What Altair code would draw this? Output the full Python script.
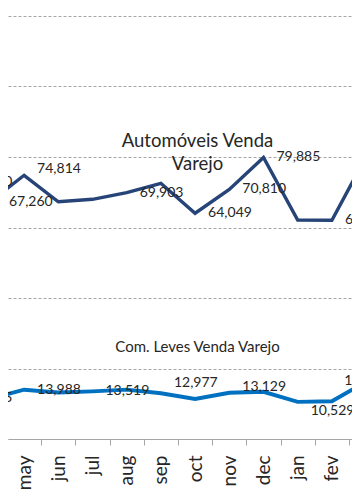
import altair as alt
import pandas as pd

# ---- data ----
months = ["mar", "apr", "may", "jun", "jul", "aug", "sep", "oct", "nov", "dec", "jan", "fev", "mar"]
auto_values = [72880, 67260, 74814, 67300, 68000, 69903, 72540, 64049, 70810, 79885, 62100, 62050, 80100]
auto_labels = ["72,880", "67,260", "74,814", "", "", "69,903", "", "64,049", "70,810", "79,885", "", "62,050", ""]
auto_pos = ["r", "rr", "ru", "", "", "r", "", "r", "r", "r", "", "r", ""]
leves_values = [11565, 11400, 13988, 13200, 13519, 14000, 12977, 11350, 13129, 13400, 10529, 10700, 16312]
leves_labels = ["11,565", "", "13,988", "", "13,519", "", "12,977", "", "13,129", "", "10,529", "", "16,312"]
leves_pos = ["r", "", "r", "", "r", "", "ruu", "", "ru", "", "rd", "", "c"]
series_names = ["Automóveis Venda Varejo", "Com. Leves Venda Varejo"]
series_colors = ["#264478", "#0070C0"]
y_ticks = [0, 20000, 40000, 60000, 80000, 100000, 120000]
x_label_values = list(range(2, 12))

rows = []
for s, vals, labs, pos in [
    (series_names[0], auto_values, auto_labels, auto_pos),
    (series_names[1], leves_values, leves_labels, leves_pos),
]:
    for i, (m, v, l, p) in enumerate(zip(months, vals, labs, pos)):
        rows.append({"series": s, "i": i, "month": m, "value": v, "label": l, "pos": p})
df = pd.DataFrame(rows)

ann = pd.DataFrame([
    {"text": "Automóveis Venda", "i": 7.07, "value": 84600, "kind": "big"},
    {"text": "Varejo", "i": 7.07, "value": 78100, "kind": "big"},
    {"text": "Com. Leves Venda Varejo", "i": 7.07, "value": 26100, "kind": "small"},
])

FONT = "Lato"
TXT = "#262626"
W = 344
x_domain = [1.529, 11.588]
half_step = W / (x_domain[1] - x_domain[0]) / 2

month_js = "[" + ",".join("'" + m + "'" for m in months) + "]"

x_axis = alt.Axis(
    values=x_label_values,
    labelExpr=f"{month_js}[datum.value]",
    labelAngle=270,
    labelFont=FONT,
    labelFontSize=19,
    labelColor=TXT,
    labelPadding=10,
    labelOverlap=False,
    labelFlush=False,
    labelBound=False,
    tickOffset=half_step,
    labelOffset=-half_step,
    tickSize=6,
    tickColor="#a6a6a6",
    domainColor="#a6a6a6",
    domainWidth=1,
    grid=False,
    title=None,
)
y_axis = alt.Axis(
    values=y_ticks,
    labels=False,
    ticks=False,
    domain=False,
    grid=True,
    gridColor="#a6a6a6",
    gridDash=[3, 2],
    gridWidth=1,
    title=None,
)

X = alt.X("i:Q", scale=alt.Scale(domain=x_domain, nice=False, zero=False), axis=x_axis)
Y = alt.Y("value:Q", scale=alt.Scale(domain=[0, 120000], nice=False, zero=False), axis=y_axis)

base = alt.Chart(df)

lines = base.mark_line(clip=True).encode(
    x=X,
    y=Y,
    color=alt.Color("series:N", scale=alt.Scale(domain=series_names, range=series_colors), legend=None),
    strokeWidth=alt.StrokeWidth("series:N", scale=alt.Scale(domain=series_names, range=[3.4, 3.9]), legend=None),
)

offsets = {"r": (13, 0, "left"), "rr": (19, 0, "left"), "ru": (13, -6, "left"),
           "ruu": (13, -10, "left"), "rd": (13, 9, "left"), "c": (0, -1, "center")}
label_layers = []
for key, (dx, dy, al) in offsets.items():
    label_layers.append(
        base.transform_filter(f"datum.pos === '{key}'").mark_text(
            clip=True, align=al, baseline="middle", dx=dx, dy=dy,
            font=FONT, fontSize=14, color=TXT,
        ).encode(x=X, y=Y, text="label:N")
    )

ann_big = alt.Chart(ann).transform_filter("datum.kind === 'big'").mark_text(
    align="center", baseline="middle", font=FONT, fontSize=18.5, color=TXT
).encode(x=X, y=Y, text="text:N")
ann_small = alt.Chart(ann).transform_filter("datum.kind === 'small'").mark_text(
    align="center", baseline="middle", font=FONT, fontSize=15, color=TXT
).encode(x=X, y=Y, text="text:N")

chart = alt.layer(lines, *label_layers, ann_big, ann_small).properties(
    width=W,
    height=423,
    padding={"left": 0, "top": 8, "right": 0, "bottom": 53},
    autosize=alt.AutoSizeParams(type="none"),
    background="white",
).configure_view(stroke=None).configure_axis(labelOverlap=False)

chart.save("out.html", embed_options={"renderer": "svg", "actions": False})
